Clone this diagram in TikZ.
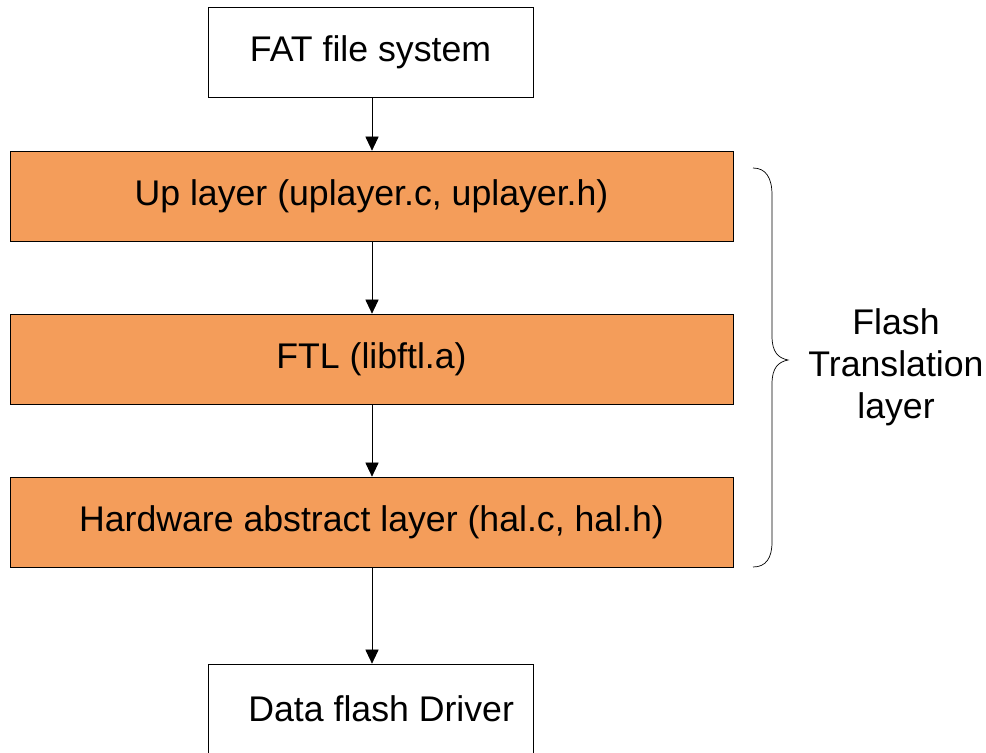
\documentclass[tikz,border=0pt]{standalone}
\usepackage{fontspec}
\setmainfont{Liberation Sans}
\usetikzlibrary{arrows.meta}

\definecolor{layer area}{RGB}{244,157,90}
\tikzset{plain/.style={draw=black, fill=white, minimum width=6.5cm, minimum height=1.8cm,
            inner sep=0pt, font=\fontsize{20.3}{24}\selectfont},
    layer/.style={plain, fill=layer area, minimum width=14.46cm},
    flow/.style={-{Triangle[length=8pt, width=7.5pt]}, thin}}

\begin{document}
\begin{tikzpicture}[x=0.02cm, y=-0.02cm]
     \useasboundingbox (0,0) rectangle (986,753);
     \node[plain] (fat) at (370.5,52) {FAT file system};
     \node[layer] (up) at (371.5,196) {Up layer (uplayer.c, uplayer.h)};
     \node[layer] (ftl) at (371.5,359) {FTL (libftl.a)};
     \node[layer] (hal) at (371.5,522) {Hardware abstract layer (hal.c, hal.h)};
     \node[plain] (drv) at (370.5,709) {\hspace*{0.6em}Data flash Driver};
     \draw[flow] (fat.south -| 372,0) -- (up.north -| 372,0);
     \draw[flow] (up.south -| 372,0) -- (ftl.north -| 372,0);
     \draw[flow] (ftl.south -| 372,0) -- (hal.north -| 372,0);
     \draw[flow] (hal.south -| 372,0) -- (drv.north -| 372,0);
     % brace
     \draw[thin] (753,168) .. controls (766,168) and (772,178) .. (772,195)
                 -- (772,336) .. controls (772,352) and (778,358) .. (788,360)
                 .. controls (778,362) and (772,368) .. (772,384)
                 -- (772,542) .. controls (772,558) and (766,567) .. (753,567);
     \node[align=center, font=\fontsize{20.3}{24}\selectfont] (ftlname) at (896,367)
          {Flash\\Translation\\layer};
 \end{tikzpicture}
\end{document}
